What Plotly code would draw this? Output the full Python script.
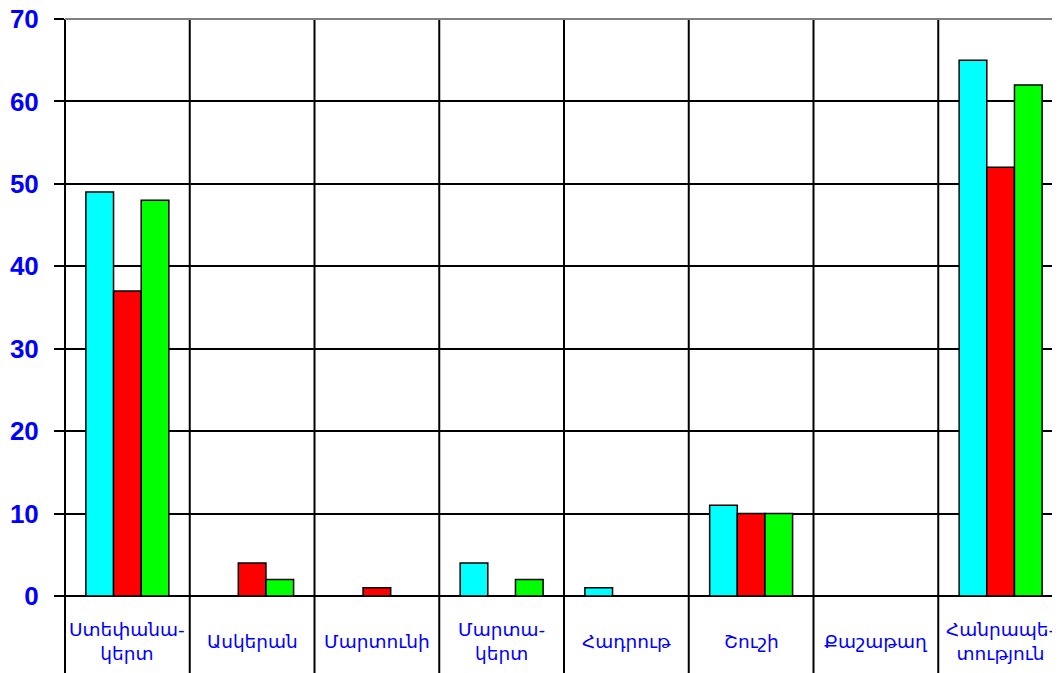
import plotly.graph_objects as go

categories = ["Ստեփանա-<br>կերտ", "Ասկերան", "Մարտունի", "Մարտա-<br>կերտ",
              "Հադրութ", "Շուշի", "Քաշաթաղ", "Հանրապե-<br>տություն"]
series_cyan = [49, 0, 0, 4, 1, 11, 0, 65]
series_red = [37, 4, 1, 0, 0, 10, 0, 52]
series_green = [48, 2, 0, 2, 0, 10, 0, 62]
y_ticks = [0, 10, 20, 30, 40, 50, 60, 70]

W, H = 1060, 673
OFF = 8  # page body margin
ML, MT, MR = 65 - OFF, 19 - OFF, 5
MB = H - (596 - OFF)
plot_h = H - MT - MB
x_min, x_max = -0.5, len(categories) - 0.5

x_idx = list(range(len(categories)))
fig = go.Figure()
for vals, col in [(series_cyan, "#00FFFF"), (series_red, "#FF0000"), (series_green, "#00FF00")]:
    fig.add_trace(go.Bar(x=x_idx, y=vals, marker=dict(color=col, line=dict(color="black", width=1.5)),
                         showlegend=False))

shapes = []
for i in range(len(categories) + 1):
    xp = (i - 0.5 - x_min) / (x_max - x_min)
    shapes.append(dict(type="line", xref="paper", yref="paper", x0=xp, x1=xp,
                       y0=-MB / plot_h, y1=1, line=dict(color="black", width=2), layer="above"))
shapes.append(dict(type="line", xref="paper", yref="paper", x0=0, x1=1, y0=1, y1=1,
                   line=dict(color="#808080", width=2), layer="above"))

annotations = []
for i, c in enumerate(categories):
    annotations.append(dict(x=i, xref="x", y=-(641 - 596) / plot_h, yref="paper",
                            text=c, showarrow=False, xanchor="center", yanchor="middle",
                            font=dict(family="DejaVu Sans", size=18.5, color="#0000FF")))

fig.update_layout(
    width=W, height=H,
    margin=dict(l=ML, r=MR, t=MT, b=MB, pad=0, autoexpand=False),
    plot_bgcolor="white", paper_bgcolor="white",
    barmode="group", bargap=0.335, bargroupgap=0,
    shapes=shapes, annotations=annotations,
    xaxis=dict(range=[x_min, x_max], showticklabels=False, showgrid=False, zeroline=False,
               ticks="", showline=False, fixedrange=True, automargin=False),
    yaxis=dict(range=[0, 70], tickvals=y_ticks, showgrid=True, gridcolor="black", gridwidth=2,
               zeroline=True, zerolinecolor="black", zerolinewidth=2,
               ticks="outside", ticklen=10, tickwidth=2, tickcolor="black",
               showline=False, ticklabelstandoff=10, ticklabeloverflow="allow", automargin=False,
               tickfont=dict(family="Liberation Sans", size=26, color="#0000FF", weight="bold")),
)
fig.write_html("out.html")
